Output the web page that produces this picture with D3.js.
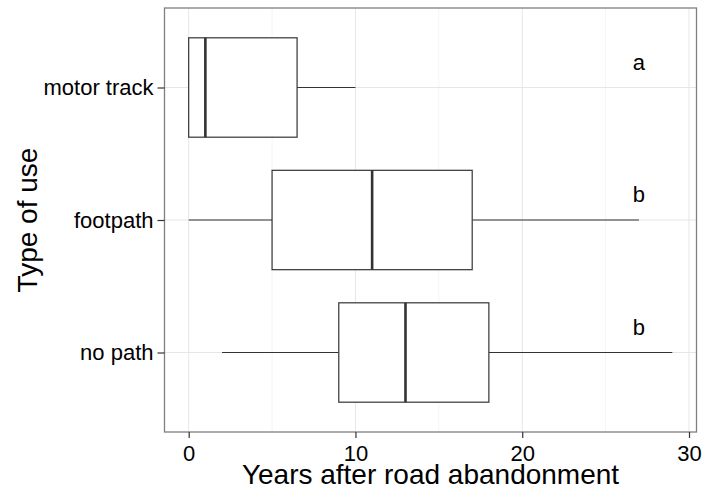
<!DOCTYPE html>
<html>
<head>
<meta charset="utf-8">
<script src="https://cdn.jsdelivr.net/npm/d3@7"></script>
<style>
  html, body { margin: 0; padding: 0; background: #fff; }
  text { font-family: "Liberation Sans", Arial, Helvetica, sans-serif; }
</style>
</head>
<body>
<svg id="chart" width="703" height="490"></svg>
<script>
// ---- data ----
const categories = ["no path", "footpath", "motor track"]; // bottom to top
const lowerWhisker = [2, 0, 0];
const q1 = [9, 5, 0];
const median = [13, 11, 1];
const q3 = [18, 17, 6.5];
const upperWhisker = [29, 27, 10];
const groupLetters = ["b", "b", "a"];
const letterX = 27;
const xTicks = [0, 10, 20, 30];
const xMinorTicks = [5, 15, 25];
const xTitle = "Years after road abandonment";
const yTitle = "Type of use";

// ---- layout ----
const svg = d3.select("#chart");
const panel = { left: 164.5, right: 696.5, top: 8, bottom: 432 };

const x = d3.scaleLinear().domain([-1.45, 30.45]).range([panel.left, panel.right]);
const y = d3.scaleLinear().domain([0.4, categories.length + 0.6]).range([panel.bottom, panel.top]);
const boxHalf = 0.375;

svg.append("rect").attr("x", 0).attr("y", 0).attr("width", 703).attr("height", 490).attr("fill", "#fff");

// minor gridlines
svg.append("g").selectAll("line").data(xMinorTicks).join("line")
  .attr("x1", d => x(d)).attr("x2", d => x(d))
  .attr("y1", panel.top).attr("y2", panel.bottom)
  .attr("stroke", "#f4f4f4").attr("stroke-width", 1);

// major gridlines
svg.append("g").selectAll("line").data(xTicks).join("line")
  .attr("x1", d => x(d)).attr("x2", d => x(d))
  .attr("y1", panel.top).attr("y2", panel.bottom)
  .attr("stroke", "#e6e6e6").attr("stroke-width", 1);
svg.append("g").selectAll("line").data(categories).join("line")
  .attr("x1", panel.left).attr("x2", panel.right)
  .attr("y1", (d, i) => y(i + 1)).attr("y2", (d, i) => y(i + 1))
  .attr("stroke", "#e6e6e6").attr("stroke-width", 1);

// boxplots
const boxes = svg.append("g").selectAll("g").data(categories).join("g");
const col = "#333333";
boxes.append("line")
  .attr("x1", (d, i) => x(lowerWhisker[i])).attr("x2", (d, i) => x(q1[i]))
  .attr("y1", (d, i) => y(i + 1)).attr("y2", (d, i) => y(i + 1))
  .attr("stroke", col).attr("stroke-width", 1.2);
boxes.append("line")
  .attr("x1", (d, i) => x(q3[i])).attr("x2", (d, i) => x(upperWhisker[i]))
  .attr("y1", (d, i) => y(i + 1)).attr("y2", (d, i) => y(i + 1))
  .attr("stroke", col).attr("stroke-width", 1.2);
boxes.append("rect")
  .attr("x", (d, i) => x(q1[i]))
  .attr("width", (d, i) => x(q3[i]) - x(q1[i]))
  .attr("y", (d, i) => y(i + 1 + boxHalf))
  .attr("height", (d, i) => y(i + 1 - boxHalf) - y(i + 1 + boxHalf))
  .attr("fill", "#fff").attr("stroke", col).attr("stroke-width", 1.2);
boxes.append("line")
  .attr("x1", (d, i) => x(median[i])).attr("x2", (d, i) => x(median[i]))
  .attr("y1", (d, i) => y(i + 1 + boxHalf)).attr("y2", (d, i) => y(i + 1 - boxHalf))
  .attr("stroke", col).attr("stroke-width", 2.6);

// group letters
svg.append("g").selectAll("text").data(groupLetters).join("text")
  .attr("x", x(letterX))
  .attr("y", (d, i) => y(i + 1 + 0.2) + 8.5)
  .attr("text-anchor", "middle")
  .attr("font-size", 22).attr("fill", "#000")
  .text(d => d);

// panel border
svg.append("rect")
  .attr("x", panel.left).attr("y", panel.top)
  .attr("width", panel.right - panel.left).attr("height", panel.bottom - panel.top)
  .attr("fill", "none").attr("stroke", "#7f7f7f").attr("stroke-width", 1.3);

// x axis
const xAxis = d3.axisBottom(x).tickValues(xTicks).tickSize(6).tickPadding(7).tickFormat(d3.format("d"));
const gx = svg.append("g").attr("transform", `translate(0,${panel.bottom})`).call(xAxis);
gx.select(".domain").remove();
gx.selectAll(".tick line").attr("stroke", "#333").attr("stroke-width", 1.2);
gx.selectAll(".tick text").attr("font-size", 22).attr("fill", "#000")
  .attr("font-family", '"Liberation Sans", Arial, sans-serif');

// y axis
const yAxis = d3.axisLeft(y).tickValues([1, 2, 3]).tickSize(7).tickPadding(4)
  .tickFormat(d => categories[d - 1]);
const gy = svg.append("g").attr("transform", `translate(${panel.left},0)`).call(yAxis);
gy.select(".domain").remove();
gy.selectAll(".tick line").attr("stroke", "#333").attr("stroke-width", 1.2);
gy.selectAll(".tick text").attr("font-size", 22).attr("fill", "#000")
  .attr("font-family", '"Liberation Sans", Arial, sans-serif');

// titles
svg.append("text")
  .attr("x", (panel.left + panel.right) / 2).attr("y", 484)
  .attr("text-anchor", "middle").attr("font-size", 28).attr("fill", "#000")
  .text(xTitle);
svg.append("text")
  .attr("transform", `translate(37,${(panel.top + panel.bottom) / 2}) rotate(-90)`)
  .attr("text-anchor", "middle").attr("font-size", 28).attr("fill", "#000")
  .text(yTitle);
</script>
</body>
</html>
